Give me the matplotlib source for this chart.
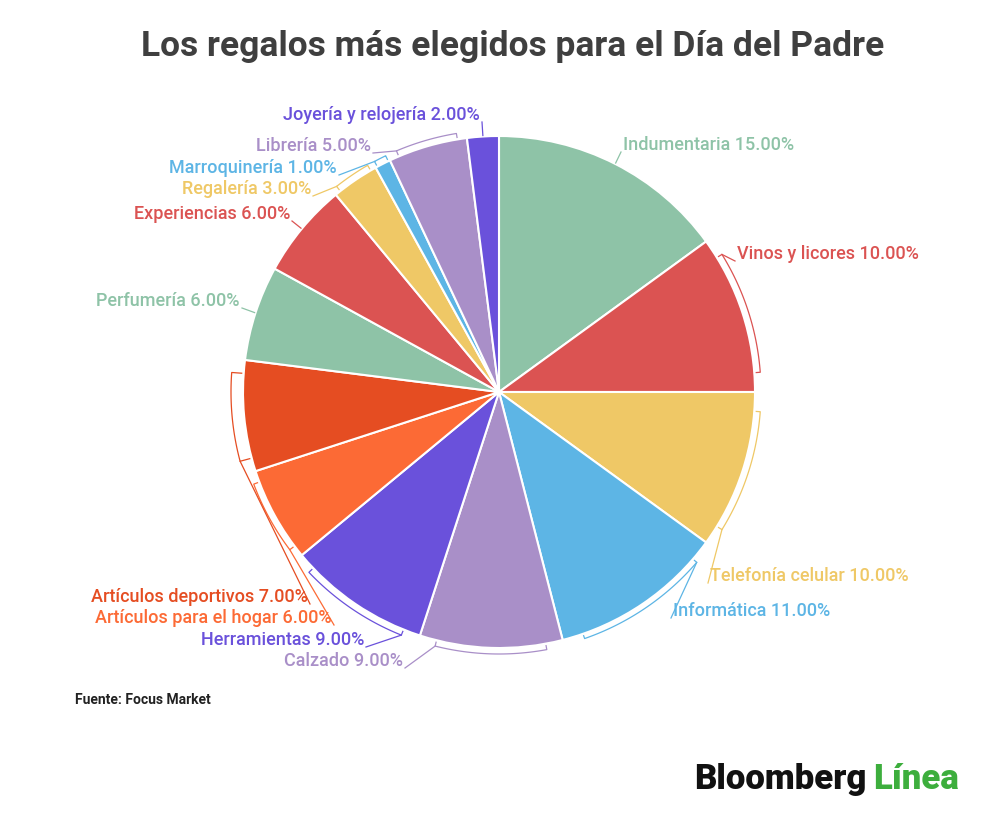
import numpy as np
import matplotlib.pyplot as plt

plt.rcParams['font.family'] = ['Roboto', 'DejaVu Sans']

categorias = [
    'Indumentaria', 'Vinos y licores', 'Telefonía celular', 'Informática',
    'Calzado', 'Herramientas', 'Artículos para el hogar', 'Artículos deportivos',
    'Perfumería', 'Experiencias', 'Regalería', 'Marroquinería', 'Librería',
    'Joyería y relojería',
]
valores = [15, 10, 10, 11, 9, 9, 6, 7, 6, 6, 3, 1, 5, 2]

verde = '#8EC3A7'
rojo = '#DB5352'
amarillo = '#EFC866'
azul = '#5DB5E5'
lavanda = '#A98FC8'
violeta = '#6A51DB'
naranja = '#FC6A35'
naranja_osc = '#E54D22'
colores = [verde, rojo, amarillo, azul, lavanda, violeta, naranja, naranja_osc,
           verde, rojo, amarillo, azul, lavanda, violeta]

# label layout in pixel coords (from top-left), alignment, bracket gap (None = plain line)
etiquetas_pos = [
    (623, 145, 'left', None),
    (737, 254, 'left', 6),
    (710, 576, 'left', 6),
    (673, 611, 'left', 5),
    (403, 661, 'right', 6),
    (364, 640, 'right', 6),
    (332, 618, 'right', 6),
    (308, 597, 'right', 12),
    (240, 301, 'right', None),
    (290, 214, 'right', None),
    (311, 189, 'right', 6),
    (337, 168, 'right', 6),
    (371, 146, 'right', 6),
    (480, 115, 'right', None),
]

W, H = 1000, 822
fig = plt.figure(figsize=(W / 100, H / 100), dpi=100)
ax = fig.add_axes([0, 0, 1, 1])

cx, cy, R = 499, H - 392, 256
wedges, _ = ax.pie(valores, colors=colores, startangle=90, counterclock=False,
                   center=(cx, cy), radius=R, frame=True,
                   wedgeprops=dict(edgecolor='white', linewidth=1.5))
ax.set_xlim(0, W)
ax.set_ylim(0, H)
ax.set_aspect('equal')
ax.axis('off')


def punto(r, t):
    return cx + r * np.cos(t), cy + r * np.sin(t)


for w, cat, val, col, (lx, ly, ha, gap) in zip(wedges, categorias, valores, colores, etiquetas_pos):
    ly = H - ly
    ax_x = lx - 2 if ha == 'left' else lx + 2
    t1, t2 = np.radians(w.theta1), np.radians(w.theta2)
    mid = (t1 + t2) / 2
    if gap is None:
        x0, y0 = punto(R + 1, mid)
    else:
        span = (t2 - t1) * 0.38
        ts = np.linspace(mid - span, mid + span, 40)
        xs = [punto(R + 2, ts[0])[0]] + list(cx + (R + gap) * np.cos(ts)) + [punto(R + 2, ts[-1])[0]]
        ys = [punto(R + 2, ts[0])[1]] + list(cy + (R + gap) * np.sin(ts)) + [punto(R + 2, ts[-1])[1]]
        ax.plot(xs, ys, color=col, lw=0.9)
        e1 = punto(R + gap, ts[0])
        e2 = punto(R + gap, ts[-1])
        d1 = np.hypot(e1[0] - ax_x, e1[1] - ly)
        d2 = np.hypot(e2[0] - ax_x, e2[1] - ly)
        x0, y0 = e1 if d1 < d2 else e2
    ax.plot([x0, ax_x], [y0, ly - 7], color=col, lw=0.9)
    ax.text(lx, ly, f'{cat} {val:.2f}%', color=col, fontsize=13,
            ha=ha, va='center', fontweight='medium')

ax.text(513, H - 47, 'Los regalos más elegidos para el Día del Padre',
        ha='center', va='center', fontsize=25.5, fontweight='bold', color='#3f3f3f')
ax.text(75, H - 700, 'Fuente: Focus Market', ha='left', va='center',
        fontsize=10, fontweight='bold', color='#222222')
ax.text(866, H - 779, 'Bloomberg', ha='right', va='center', fontsize=25,
        fontweight='black', color='#111111')
ax.text(873, H - 779, 'Línea', ha='left', va='center', fontsize=25,
        fontweight='black', color='#3DAE3D')

fig.savefig('out.png', dpi=100, facecolor='white')
